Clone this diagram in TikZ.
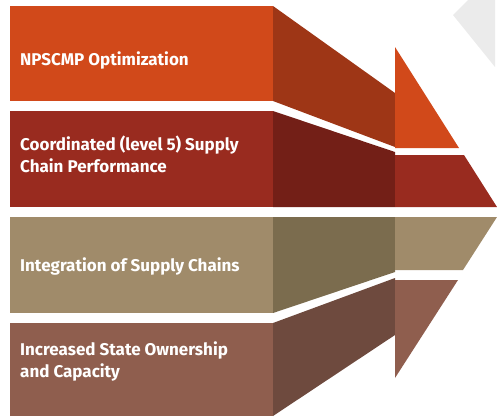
\documentclass[tikz,border=0pt]{standalone}
\usepackage{fontspec}
\usepackage{xcolor}
\setmainfont{Fira Sans}
\definecolor{bandorange}{RGB}{209, 73, 26}
\definecolor{darkorange}{RGB}{158, 54, 22}
\definecolor{bandred}{RGB}{153, 43, 31}
\definecolor{darkred}{RGB}{115, 31, 23}
\definecolor{bandtan}{RGB}{160, 139, 106}
\definecolor{darktan}{RGB}{123, 108, 78}
\definecolor{bandbrown}{RGB}{143, 94, 78}
\definecolor{darkbrown}{RGB}{110, 74, 62}
\definecolor{cornergray}{RGB}{235, 235, 235}
\usetikzlibrary{positioning}

\begin{document}
\begin{tikzpicture}[
    x=1pt, y=-1pt,
    every node/.style={align=left},
    bandlabel/.style={anchor=base west, inner sep=0pt, text=white, font=\fontsize{17}{22}\selectfont\bfseries}
]
    \useasboundingbox (0,0) rectangle (497,416);

    % Corner shade
    \fill[cornergray] (453,15) -- (468,0) -- (495,0) -- (495,67) -- cycle;

    % Top band
    \fill[bandorange] (10,6) rectangle (273,101);
    \fill[darkorange] (273,6) -- (395,93) -- (395,147) -- (273,101) -- cycle;
    \fill[bandorange] (395,47) -- (459,148) -- (395,148) -- cycle;

    % Second band
    \fill[bandred] (10,111) rectangle (273,207);
    \fill[darkred] (273,111) -- (395,152) -- (395,207) -- (273,207) -- cycle;
    \fill[bandred] (395,155) -- (464,155) -- (497,207) -- (395,207) -- cycle;

    % Third band
    \fill[bandtan] (10,217) rectangle (273,313);
    \fill[darktan] (273,217) -- (395,217) -- (395,272) -- (273,313) -- cycle;
    \fill[bandtan] (395,217) -- (497,217) -- (463,270) -- (395,270) -- cycle;

    % Bottom band
    \fill[bandbrown] (10,323) rectangle (273,416);
    \fill[darkbrown] (273,323) -- (395,278) -- (395,335) -- (273,416) -- cycle;
    \fill[bandbrown] (395,280) -- (458,280) -- (395,378) -- cycle;

    % Labels (base anchor sits on the last line)
    \node[bandlabel] (optim) at (20,65) {NPSCMP Optimization};
    \node[bandlabel] (coord) at (20,172) {Coordinated (level 5) Supply\\Chain Performance};
    \node[bandlabel] (integ) at (20,271) {Integration of Supply Chains};
    \node[bandlabel] (owner) at (20,377) {Increased State Ownership\\and Capacity};
\end{tikzpicture}
\end{document}
